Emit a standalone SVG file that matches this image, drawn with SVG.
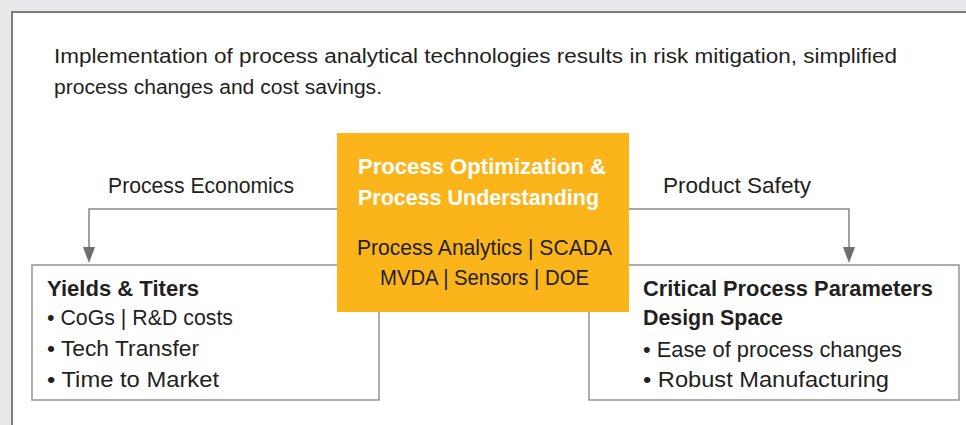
<svg xmlns="http://www.w3.org/2000/svg" width="966" height="425" viewBox="0 0 966 425">
  <defs>
    <style>
      .t { font-family: "Liberation Sans", Arial, sans-serif; fill: #231f20; }
      .hd { font-size: 19.5px; }
      .lbl { font-size: 21.5px; }
      .b { font-size: 22px; }
      .bb { font-size: 22px; font-weight: bold; }
      .wt { font-family: "Liberation Sans", Arial, sans-serif; font-size: 22px; font-weight: bold; fill: #ffffff; }
      .box { fill: #ffffff; stroke: #9a9a9a; stroke-width: 1.6; }
      .conn { fill: none; stroke: #8a8b8d; stroke-width: 1.6; }
      .head { fill: #6d6e71; }
    </style>
  </defs>
  <rect x="0" y="0" width="966" height="425" fill="#e8e9eb"/>
  <rect x="12" y="12" width="970" height="430" fill="#ffffff" stroke="#7d7d7d" stroke-width="2"/>

  <g id="header">
    <text class="t hd" x="54" y="63" textLength="843" lengthAdjust="spacingAndGlyphs">Implementation of process analytical technologies results in risk mitigation, simplified</text>
    <text class="t hd" x="54" y="94" textLength="328" lengthAdjust="spacingAndGlyphs">process changes and cost savings.</text>
  </g>

  <g id="connectors">
    <polyline class="conn" points="337,209 89,209 89,249"/>
    <polygon class="head" points="83,247 95,247 89,263"/>
    <text class="t lbl" x="108" y="193" textLength="186" lengthAdjust="spacingAndGlyphs">Process Economics</text>
    <polyline class="conn" points="629,209 849,209 849,249"/>
    <polygon class="head" points="843,247 855,247 849,263"/>
    <text class="t lbl" x="663" y="193" textLength="148" lengthAdjust="spacingAndGlyphs">Product Safety</text>
  </g>

  <g id="yields">
    <rect class="box" x="32" y="265" width="347" height="135"/>
    <text class="t bb" x="47" y="296" textLength="152" lengthAdjust="spacingAndGlyphs">Yields &amp; Titers</text>
    <text class="t b" x="47" y="325" textLength="186" lengthAdjust="spacingAndGlyphs">• CoGs | R&amp;D costs</text>
    <text class="t b" x="47" y="356" textLength="152" lengthAdjust="spacingAndGlyphs">• Tech Transfer</text>
    <text class="t b" x="47" y="387" textLength="172" lengthAdjust="spacingAndGlyphs">• Time to Market</text>
  </g>

  <g id="cpp">
    <rect class="box" x="589" y="265" width="370" height="135"/>
    <text class="t bb" x="643" y="296" textLength="290" lengthAdjust="spacingAndGlyphs">Critical Process Parameters</text>
    <text class="t bb" x="643" y="325" textLength="140" lengthAdjust="spacingAndGlyphs">Design Space</text>
    <text class="t b" x="643" y="357" textLength="259" lengthAdjust="spacingAndGlyphs">• Ease of process changes</text>
    <text class="t b" x="643" y="387" textLength="246" lengthAdjust="spacingAndGlyphs">• Robust Manufacturing</text>
  </g>

  <g id="center">
    <rect x="337" y="133" width="292" height="179" fill="#fbb51b"/>
    <text class="wt" x="358" y="174" textLength="248" lengthAdjust="spacingAndGlyphs">Process Optimization &amp;</text>
    <text class="wt" x="358" y="205" textLength="241" lengthAdjust="spacingAndGlyphs">Process Understanding</text>
    <text class="t b" x="357" y="255" textLength="255" lengthAdjust="spacingAndGlyphs">Process Analytics | SCADA</text>
    <text class="t b" x="380" y="285" textLength="209" lengthAdjust="spacingAndGlyphs">MVDA | Sensors | DOE</text>
  </g>
</svg>
